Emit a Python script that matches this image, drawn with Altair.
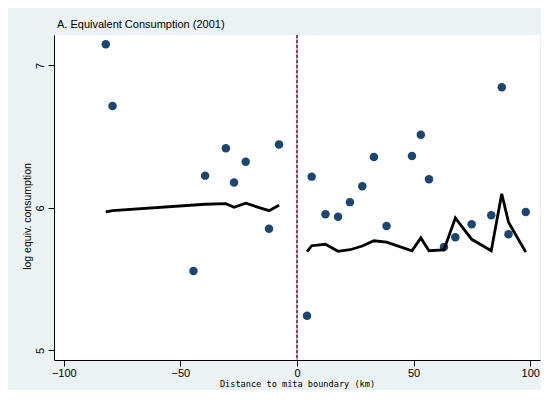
import altair as alt
import pandas as pd

# scatter points (distance km, log equiv. consumption)
pt_x = [-82.0, -79.1, -44.4, -39.4, -30.5, -27.0, -22.0, -12.0, -7.7,
        4.3, 6.3, 12.2, 17.6, 22.7, 28.0, 33.0, 38.4, 49.3, 53.1, 56.6,
        63.0, 67.9, 74.9, 83.3, 87.8, 90.7, 98.1]
pt_y = [7.149, 6.716, 5.558, 6.227, 6.419, 6.178, 6.325, 5.855, 6.446,
        5.244, 6.22, 5.956, 5.939, 6.041, 6.152, 6.358, 5.874, 6.365, 6.514, 6.201,
        5.726, 5.794, 5.886, 5.949, 6.847, 5.815, 5.972]

# fitted line, outside mita (left)
left_x = [-82.0, -79.1, -39.4, -30.5, -27.0, -22.0, -12.0, -7.7]
left_y = [5.972, 5.981, 6.026, 6.030, 6.005, 6.033, 5.981, 6.019]

# fitted line, inside mita (right)
right_x = [4.3, 6.3, 12.2, 17.6, 22.7, 28.0, 33.0, 38.4, 49.3, 53.1, 56.6,
           63.0, 67.9, 74.9, 83.3, 87.8, 90.7, 98.1]
right_y = [5.693, 5.735, 5.745, 5.696, 5.707, 5.733, 5.770, 5.760, 5.700, 5.790, 5.700,
           5.705, 5.930, 5.780, 5.700, 6.100, 5.900, 5.690]

x_ticks = [-100, -50, 0, 50, 100]
y_ticks = [5, 6, 7]

pts = pd.DataFrame({"x": pt_x, "y": pt_y})
lines = pd.DataFrame({
    "x": left_x + right_x,
    "y": left_y + right_y,
    "side": ["left"] * len(left_x) + ["right"] * len(right_x),
    "order": list(range(len(left_x))) + list(range(len(right_x))),
})
zero = pd.DataFrame({"x": [0]})

FONT = "Liberation Sans"

xscale = alt.Scale(domain=[-104.2, 104.2], nice=False, zero=False)
yscale = alt.Scale(domain=[4.933, 7.214], nice=False, zero=False)

xaxis = alt.Axis(
    values=x_ticks, format="d", title="Distance to mita boundary (km)", grid=False,
    domainColor="black", tickColor="black", tickSize=6, labelPadding=1,
    labelFont=FONT, labelFontSize=11, labelColor="black",
    titleFont="DejaVu Sans Mono", titleFontSize=8.6, titleFontWeight="normal",
    titleColor="black", titleY=23, titleBaseline="middle",
)
yaxis = alt.Axis(
    values=y_ticks, format="d", title="log equiv. consumption", grid=False,
    domainColor="black", tickColor="black", tickSize=6, labelPadding=3,
    labelAngle=270, labelAlign="center", labelBaseline="bottom",
    labelFont=FONT, labelFontSize=11, labelColor="black",
    titleFont=FONT, titleFontSize=10.5, titleFontWeight="normal",
    titleColor="black", titleAngle=270, titleX=-27, titleY=181,
    titleAlign="center", titleBaseline="middle",
)

red_rule = alt.Chart(zero).mark_rule(color="#e0708e", strokeWidth=1.3).encode(
    x=alt.X("x:Q", scale=xscale, axis=xaxis))
black_rule = alt.Chart(zero).mark_rule(color="black", strokeWidth=1, strokeDash=[3, 2]).encode(
    x=alt.X("x:Q", scale=xscale))

points = alt.Chart(pts).mark_circle(size=72, color="#1a476f", opacity=1).encode(
    x=alt.X("x:Q", scale=xscale, axis=xaxis),
    y=alt.Y("y:Q", scale=yscale, axis=yaxis),
)

fit = alt.Chart(lines).mark_line(color="black", strokeWidth=2.8, strokeJoin="miter").encode(
    x=alt.X("x:Q", scale=xscale),
    y=alt.Y("y:Q", scale=yscale),
    detail="side:N",
    order="order:Q",
)

chart = alt.layer(points, red_rule, black_rule, fit).properties(
    width=486, height=325,
    title=alt.TitleParams(
        "A. Equivalent Consumption (2001)", anchor="start", frame="group", font=FONT,
        fontSize=11, fontWeight="normal", color="black", offset=4, dx=3,
    ),
    autosize=alt.AutoSizeParams(type="none"),
    padding={"left": 46, "top": 27, "right": 1, "bottom": 30},
).configure(background="#eaf2f3").configure_view(stroke=None, fill="white")

chart.save("out.html", embed_options={"renderer": "svg", "actions": False})
